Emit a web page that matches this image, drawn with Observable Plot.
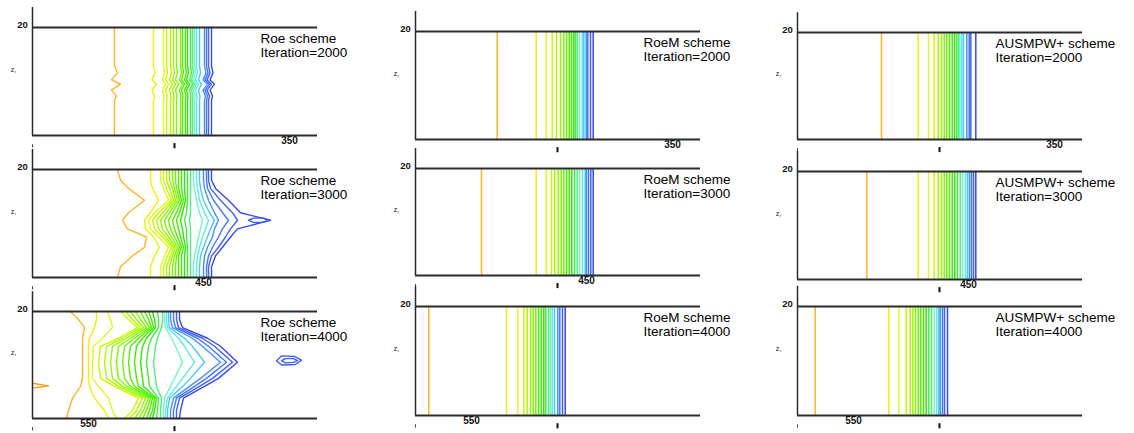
<!DOCTYPE html>
<html><head><meta charset="utf-8">
<script src="https://cdn.jsdelivr.net/npm/d3@7"></script>
<script src="https://cdn.jsdelivr.net/npm/@observablehq/plot@0.6"></script>
<style>
html,body{margin:0;padding:0;background:#fff}
#root{position:relative;width:1134px;height:433px;overflow:hidden;background:#fff}
</style></head>
<body><div id="root"></div>
<script>
// ---------- data ----------
const schemes = ["Roe", "RoeM", "AUSMPW+"];
const iterations = [2000, 3000, 4000];
const levelColors = ["#FFB428","#F0F000","#E0F820","#C8F800","#B0F800","#98F800","#80F800","#68F800",
  "#50F000","#40F000","#30E800","#40F040","#50F080","#70F8C0","#60E8E8","#48C8F8","#4890F8","#4078F8","#4060F8","#3848F0"];
const bottomTickLabels = ["350", "450", "550"];
const bottomTickLabelX = [257, 171, 56];

// straight (non-deformed) contour positions, one per level
const roeM2000 = [81.7,120.7,130.7,136.7,141,145,148.3,151,153.7,156,158.3,160,161.7,164,166.7,168.3,170.7,172.3,175,177.7];
const roeM3000 = [66,120.7,130.7,136,139.3,142.7,145.7,148.3,151,153.7,156.3,159,161.7,164.3,167,169.7,171,173,175.3,177.7];
const roeM4000 = [13.3,91,102.3,108.3,111.7,115,117.7,120.3,123,125.7,128.3,130.3,133.3,135,136.7,139,142.3,144.3,147,149.7];
const ausm2000 = [84,120.7,131,136.7,140.7,144,146.7,149.3,152,154.7,157,159.3,161,162.3,164.3,166,169.3,171.7,173.3,178.3];
const ausm3000 = [69.3,120.7,131,136.7,140.7,144,146.7,149.3,152,154.7,157.3,160,162.7,165.3,168,170,172,174,176,178.3];
const ausm4000 = [17.7,91.3,101.3,108.7,112.7,115.3,118,120.7,123.3,126,128.7,131.3,134,136.7,139.3,141.3,142.7,145,147,150];

// Roe scheme, deformed contours: rows = y levels, columns = contour levels
const roe2000Y = [0, 6.5, 7.3, 8.4, 9.5, 10.3, 11.6, 12.9, 20];
const roe2000X = [
  [82,121,131,134,138,141,144,148,150,153,155,158,160,162,164,167,172,174,176,179],
  [82,121,131,134,138,141,144,148,150,153,155,158,160,162,164,167,172,174,176,179],
  [84,122,131.5,134.5,138.5,141.5,144.5,148.5,150.5,153.5,155.5,158.5,160.5,162.5,164.5,167.5,173,175,177,180],
  [79,119.5,130,133,137,140,143,147,149,152,154,157,159,161,163,166,170.5,172.5,174.5,177.5],
  [88,124,133,136,140,143,146,150,152,155,157,160,162,164,166,169,175,177,179,182],
  [79,119.5,130,133,137,140,143,147,149,152,154,157,159,161,163,166,170.5,172.5,174.5,177.5],
  [85,122.5,132,135,139,142,145,149,151,154,156,159,161,163,165,168,173.5,175.5,177.5,180.5],
  [82,121,131,134,138,141,144,148,150,153,155,158,160,162,164,167,172,174,176,179],
  [82,121,131,134,138,141,144,148,150,153,155,158,160,162,164,167,172,174,176,179]
];
const roe3000Y = [0, 2, 4, 5.6, 7.5, 9, 10.6, 12, 14.3, 16.5, 18, 20];
const roe3000X = [
  [85,118,128,131,134,137,140,143,146,149,152,155,158,161,164,167,171,174,176,179],
  [88,118,128,131,134,137,140,143,146,149,152,155,158,161,164,167,171,174,176,179],
  [100,122,132,135,138,140,142,144,146,149,152,155,158,162,165,168,172,176,179,183],
  [112,127,136,139,141,143,145,147,149,151,153,155,158,164,167,171,175,180,186,190],
  [114,121,126,130,133,136,139,142,145,148,151,154,158,166,170,175,180,186,193,198],
  [95,113,118,122,126,130,134,138,142,146,150,154,158,168,173,178,182,190,198,205],
  [90,112,116,120,124,128,132,136,140,144,148,152,157,170,176,182,186,196,205,238],
  [96,118,122,126,130,134,137,140,144,147,150,154,158,167,172,177,182,190,200,208],
  [112,126,136,139,141,143,145,147,149,151,153,155,158,164,167,171,176,181,188,196],
  [96,120,131,134,137,140,142,144,146,149,152,155,158,162,165,168,172,175,178,183],
  [88,118,128,131,134,137,140,143,146,149,152,155,158,161,164,167,171,174,176,179],
  [85,118,128,131,134,137,140,143,146,149,152,155,158,161,164,167,171,174,176,179]
];
const roe3000LoopX = [216,221,231,236,231,221,216];
const roe3000LoopY = [10.6,11.0,11.0,10.6,10.2,10.2,10.6];

const roe4000Y = [0, 1.5, 3.8, 6, 7.5, 10.5, 13.5, 15, 17, 18.5, 20];
const roe4000X = [
  [34,76,84,92,97,102,106,110,114,117,120,124,128,131,133,135,138,141,144,147],
  [36,72,80,100,104,108,111,114,117,120,122,125,128,131,133,135,138,141,144,148],
  [40,62,76,106,110,113,116,118,120,122,124,126,129,132,135,137,141,144,147,151],
  [48,57,66,82,86,90,94,98,102,106,111,117,124,138,144,150,157,162,167,172],
  [50,56,60,68,74,80,86,92,98,104,110,116,123,142,150,158,168,174,180,186],
  [50,56,60,66,72,78,84,90,96,102,108,114,121,150,162,172,188,194,200,205],
  [50,56,61,68,74,80,86,92,98,104,110,116,123,143,152,160,170,176,182,188],
  [50,57,70,86,90,94,98,102,106,110,114,119,125,139,146,152,160,165,170,175],
  [52,62,80,105,108,111,114,117,119,121,123,126,129,133,135,137,140,143,146,150],
  [46,64,78,96,100,104,108,112,116,119,122,126,130,132,134,136,138,141,144,147],
  [38,64,75,88,93,98,103,108,112,116,120,125,130,132,134,136,138,141,144,147]
];
const roe4000OuterLoopX = [244,249,262,269,263,249,244];
const roe4000OuterLoopY = [10.8,11.7,11.6,10.9,10.1,10.0,10.8];
const roe4000InnerLoopX = [249,253,261,265,261,253,249];
const roe4000InnerLoopY = [10.8,11.2,11.2,10.8,10.5,10.4,10.8];
const roe4000TongueX = [0,16,0];
const roe4000TongueY = [6.6,6.1,5.7];

// ---------- layout ----------
const colLeft = [32, 415, 797];
const panelTop = [[27,169,311],[31,168,306],[32,171,306]];
const panelBottom = [[135,277,418],[139,275,415],[139,279,415]];
const labelX = [228, 228, 198];

function matrixLines(ys, rows, prefix) {
  const out = [];
  for (let i = 0; i < rows[0].length; i++)
    for (let j = 0; j < ys.length; j++)
      out.push({id: prefix + i, x: rows[j][i], y: ys[j], color: levelColors[i]});
  return out;
}
function pathLine(xs, ys, id, color) {
  return xs.map((x, j) => ({id, x, y: ys[j], color}));
}

const deformed = {
  "0-0": matrixLines(roe2000Y, roe2000X, "a"),
  "0-1": matrixLines(roe3000Y, roe3000X, "b").concat(pathLine(roe3000LoopX, roe3000LoopY, "bl", levelColors[18])),
  "0-2": matrixLines(roe4000Y, roe4000X, "c")
    .concat(pathLine(roe4000OuterLoopX, roe4000OuterLoopY, "co", levelColors[18]))
    .concat(pathLine(roe4000InnerLoopX, roe4000InnerLoopY, "ci", levelColors[18]))
    .concat(pathLine(roe4000TongueX, roe4000TongueY, "ct", "#FF9A20"))
};
const straight = {
  "1-0": roeM2000, "1-1": roeM3000, "1-2": roeM4000,
  "2-0": ausm2000, "2-1": ausm3000, "2-2": ausm4000
};

const root = document.getElementById("root");
const mL = 40, mR = 70, mT = 30, mB = 22;

for (let c = 0; c < 3; c++) {
  for (let r = 0; r < 3; r++) {
    const top = panelTop[c][r], bottom = panelBottom[c][r];
    const h = bottom - top;
    const key = c + "-" + r;
    const marks = [];
    if (deformed[key]) {
      marks.push(Plot.line(deformed[key], {x: "x", y: "y", z: "id", stroke: "color", strokeWidth: 1.4, curve: "linear"}));
    } else {
      marks.push(Plot.ruleX(straight[key], {x: d => d, y1: 0, y2: 20, stroke: (d, i) => levelColors[i], strokeWidth: 1.5}));
    }
    marks.push(
      Plot.ruleY([20], {stroke: "#2a2a2a", strokeWidth: 1.8}),
      Plot.ruleY([0], {stroke: "#2a2a2a", strokeWidth: 1.8}),
      Plot.ruleX([0], {y1: 0, y2: 23.7, stroke: "#2a2a2a", strokeWidth: 1.5}),
      Plot.ruleX([0], {y1: -1.7, y2: -2.3, stroke: "#444", strokeWidth: 1}),
      Plot.ruleX([142], {y1: -1.5, y2: -2.45, stroke: "#111", strokeWidth: 2}),
      Plot.text(["20"], {x: 0, y: 20, dx: -10, dy: -3, fontSize: 9.5, fontWeight: "bold", fill: "#111"}),
      Plot.text(["z,"], {x: 0, y: 12.2, dx: -19, fontSize: 7, fill: "#222"}),
      Plot.text([bottomTickLabels[r]], {x: bottomTickLabelX[r], y: 0, dy: 5, fontSize: 10, fontWeight: "bold", fill: "#111"}),
      Plot.text([`${schemes[c]} scheme`], {
        x: labelX[c], y: 20, dy: 6, textAnchor: "start", lineAnchor: "top", fontSize: 13.5, fill: "#000"
      }),
      Plot.text([`Iteration=${iterations[r]}`], {
        x: labelX[c], y: 20, dy: 20, textAnchor: "start", lineAnchor: "top", fontSize: 13.5, fill: "#000"
      })
    );
    const chart = Plot.plot({
      width: mL + 285 + mR, height: mT + h + mB,
      marginLeft: mL, marginRight: mR, marginTop: mT, marginBottom: mB,
      x: {domain: [0, 285], axis: null},
      y: {domain: [0, 20], axis: null},
      color: {type: "identity"},
      style: {background: "transparent", overflow: "visible", fontFamily: "'Liberation Sans', Arial, sans-serif"},
      marks
    });
    chart.style.position = "absolute";
    chart.style.left = (colLeft[c] - mL) + "px";
    chart.style.top = (top - mT) + "px";
    chart.style.maxWidth = "none";
    root.appendChild(chart);
  }
}
</script></body></html>
